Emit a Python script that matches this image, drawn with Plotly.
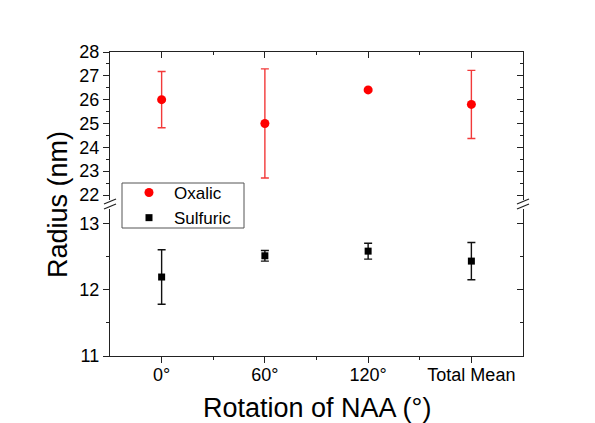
import plotly.graph_objects as go

categories = ["0°", "60°", "120°", "Total Mean"]
oxalic = [26.0, 25.0, 26.41, 25.80]
oxalic_err = [1.18, 2.29, 0.04, 1.43]
sulfuric = [12.19, 12.51, 12.58, 12.43]
sulfuric_err = [0.41, 0.08, 0.12, 0.28]

xpos = list(range(len(categories)))

W, H = 595, 423
L, R, T, B = 110, 523, 52, 356
FONT = "Liberation Sans, Arial, sans-serif"
AX = "#222222"

def px(x):
    return (x - L) / (R - L)

def py(y):
    return (B - y) / (B - T)

fig = go.Figure()
fig.add_trace(go.Scatter(
    x=xpos, y=oxalic, name="Oxalic", mode="markers",
    marker=dict(symbol="circle", size=9, color="#ff0000"),
    error_y=dict(type="data", array=oxalic_err, visible=True, color="#f23a3a", thickness=1.4, width=4),
    xaxis="x", yaxis="y2",
))
fig.add_trace(go.Scatter(
    x=xpos, y=sulfuric, name="Sulfuric", mode="markers",
    marker=dict(symbol="square", size=7, color="#000000"),
    error_y=dict(type="data", array=sulfuric_err, visible=True, color="#111111", thickness=1.4, width=4),
    xaxis="x", yaxis="y",
))
# empty helper traces so the mirrored (inside-tick) frame axes get drawn
for xa, ya in (("x2", "y2"), ("x", "y3"), ("x", "y4")):
    fig.add_trace(go.Scatter(x=[None], y=[None], mode="markers", showlegend=False,
                             hoverinfo="skip", xaxis=xa, yaxis=ya))

xr = [-0.5, 3.5]
bot_dom = [0, py(209)]
top_dom = [py(200), 1]
bot_range = [11, 13.215]
top_range = [21.79, 28]

common = dict(showline=True, linecolor=AX, linewidth=1.3, showgrid=False, zeroline=False,
              tickcolor=AX, tickwidth=1.3, tickfont=dict(family=FONT, size=18, color="black"))

fig.update_layout(
    width=W, height=H,
    margin=dict(l=L, r=W - R, t=T, b=H - B),
    paper_bgcolor="white", plot_bgcolor="white",
    font=dict(family=FONT, color="black"),
    showlegend=True,
    legend=dict(x=px(124), y=py(175), xanchor="left", yanchor="top",
                bgcolor="rgba(0,0,0,0)", borderwidth=0,
                font=dict(family=FONT, size=17, color="black"),
                itemwidth=40, tracegroupgap=0),
    xaxis=dict(domain=[0, 1], range=xr, anchor="y",
               tickmode="array", tickvals=xpos, ticktext=categories,
               ticks="outside", ticklen=6, ticklabelstandoff=-4,
               minor=dict(tickmode="array", tickvals=[0.5, 1.5, 2.5], ticks="outside", ticklen=3,
                          tickcolor=AX, tickwidth=1.3),
               **common),
    xaxis2=dict(overlaying="x", side="top", anchor="y2", range=xr,
                tickmode="array", tickvals=xpos, ticks="inside", ticklen=6, showticklabels=False,
                minor=dict(tickmode="array", tickvals=[0.5, 1.5, 2.5], ticks="inside", ticklen=3,
                           tickcolor=AX, tickwidth=1.3),
                **common),
    yaxis=dict(domain=bot_dom, range=bot_range, anchor="x",
               tickmode="linear", tick0=11, dtick=1, ticks="outside", ticklen=6,
               minor=dict(dtick=0.5, tick0=11, ticks="outside", ticklen=3, tickcolor=AX, tickwidth=1.3),
               **common),
    yaxis2=dict(domain=top_dom, range=top_range, anchor="x",
                tickmode="linear", tick0=22, dtick=1, ticks="outside", ticklen=6,
                minor=dict(dtick=0.5, tick0=22, ticks="outside", ticklen=3, tickcolor=AX, tickwidth=1.3),
                **common),
    yaxis3=dict(overlaying="y", side="right", anchor="x", range=bot_range,
                tickmode="linear", tick0=11, dtick=1, ticks="inside", ticklen=6, showticklabels=False,
                minor=dict(dtick=0.5, tick0=11, ticks="inside", ticklen=3, tickcolor=AX, tickwidth=1.3),
                **common),
    yaxis4=dict(overlaying="y2", side="right", anchor="x", range=top_range,
                tickmode="linear", tick0=22, dtick=1, ticks="inside", ticklen=6, showticklabels=False,
                minor=dict(dtick=0.5, tick0=22, ticks="inside", ticklen=3, tickcolor=AX, tickwidth=1.3),
                **common),
)

shapes = []
# legend frame
shapes.append(dict(type="rect", xref="paper", yref="paper",
                   x0=px(122), x1=px(244), y0=py(228), y1=py(183),
                   line=dict(color="#555555", width=1), fillcolor="white", layer="above"))
# axis break marks
for xc in (L, R):
    for yc in (204, 209):
        shapes.append(dict(type="line", xref="paper", yref="paper",
                           x0=px(xc - 6), y0=py(yc), x1=px(xc + 6), y1=py(yc - 5),
                           line=dict(color=AX, width=1.3)))
fig.update_layout(shapes=shapes)

fig.add_annotation(text="Radius (nm)", xref="paper", yref="paper", x=px(58), y=py(204),
                   textangle=-90, showarrow=False, xanchor="center", yanchor="middle",
                   font=dict(family=FONT, size=27, color="black"))
fig.add_annotation(text="Rotation of NAA (°)", xref="paper", yref="paper", x=px(317), y=py(408),
                   showarrow=False, xanchor="center", yanchor="middle",
                   font=dict(family=FONT, size=27, color="black"))

fig.write_html("out.html", config={"displayModeBar": False},
               post_script="document.body.style.margin='0';document.body.style.overflow='hidden';")
